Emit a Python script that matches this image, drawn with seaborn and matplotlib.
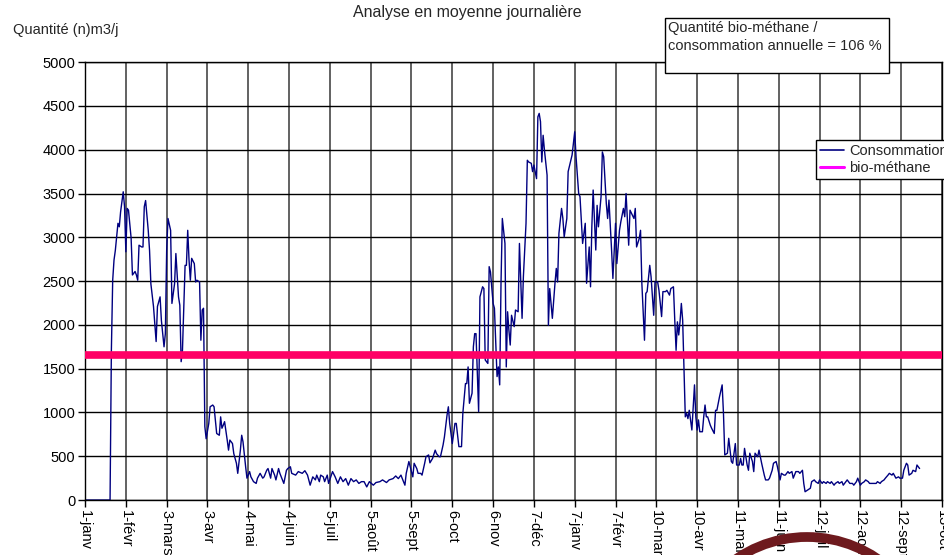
import numpy as np
import matplotlib
matplotlib.use('Agg')
import matplotlib.pyplot as plt
import seaborn as sns
from matplotlib.lines import Line2D
from matplotlib.patches import Rectangle, Circle
from matplotlib.transforms import IdentityTransform

# Daily consumption (n)m3/j, by segment (day 0 = 1-janv)
days_winter1 = [0, 19, 20, 21, 22, 23, 25, 26, 27, 29, 30, 31, 32, 33, 35, 36, 38, 39, 40, 41,
                43, 44, 45, 46, 48, 49, 50, 52, 54, 55, 57, 58, 60, 61, 62, 63, 65, 66, 68, 69,
                71, 72, 73, 74, 76, 77, 78, 79, 80, 81, 83, 84, 85, 87, 88, 89, 90, 91, 92, 94,
                95, 97, 98, 100, 102, 103, 104, 105, 106, 108, 109, 110, 112, 113, 115, 116, 118, 119, 120, 122,
                123, 125, 126, 128, 130, 131, 133, 135, 136, 138, 139, 141, 142, 144, 145, 147, 148, 150, 151, 153,
                154, 156, 157]
conso_winter1 = [0, 0, 1710, 2510, 2740, 2850, 3160, 3120, 3290, 3520, 3350, 2835, 3330, 3310, 2990, 2570, 2610, 2570, 2510, 2910,
                 2890, 2890, 3350, 3420, 3080, 2850, 2470, 2210, 1810, 2210, 2320, 2050, 1750, 1900, 2850, 3215, 3080, 2245, 2470, 2815,
                 2320, 2225, 1580, 1710, 2680, 2680, 3080, 2740, 2510, 2760, 2700, 2490, 2510, 2490, 1825, 2170, 2190, 840, 700, 875,
                 1065, 1085, 1065, 760, 740, 950, 820, 855, 895, 685, 570, 685, 645, 530, 420, 305, 570, 740, 665, 380,
                 250, 325, 265, 210, 190, 250, 305, 250, 265, 340, 360, 250, 360, 285, 230, 360, 305, 230, 190, 340,
                 360, 380, 305]

days_summer1 = [160, 162, 165, 167, 169, 171, 173, 175, 176, 178, 179, 181, 182, 184, 185, 188, 190, 192, 194, 196,
                198, 200, 202, 204, 206, 208, 210, 212, 214, 216, 219, 221, 224, 226, 229, 231, 234, 236, 238, 240,
                241, 243, 244, 246, 247, 249, 250, 252, 253, 255, 256, 258, 259, 261, 262, 264, 266, 267, 269]
conso_summer1 = [285, 325, 305, 335, 285, 170, 265, 230, 285, 210, 285, 265, 210, 285, 190, 325, 265, 190, 265, 210,
                 245, 170, 245, 210, 230, 190, 210, 210, 150, 210, 170, 200, 210, 230, 200, 230, 245, 275, 245, 285,
                 245, 170, 305, 440, 380, 265, 420, 360, 305, 305, 285, 420, 495, 515, 425, 475, 570, 530, 495]

days_winter2 = [270, 272, 273, 275, 276, 277, 279, 281, 282, 284, 286, 287, 289, 290, 291, 292, 294, 295, 296, 297,
                299, 300, 302, 303, 304, 306, 307, 308, 310, 311, 313, 314, 315, 316, 317, 319, 320, 321, 322, 323,
                324, 326, 327, 329, 330, 332, 333, 335, 336, 337, 339, 340, 341, 343, 344, 345, 346, 347, 348, 349,
                351, 352, 353, 355, 357, 358, 359, 360, 362, 363, 364, 366, 367, 369, 370, 372, 373, 375, 376, 378,
                380, 381, 383, 384, 385, 386, 388, 389, 390, 392, 393, 394, 396, 397, 398, 400, 401, 403, 404, 406,
                407, 409, 410, 411, 413, 414]
conso_winter2 = [495, 630, 720, 970, 1065, 875, 645, 875, 875, 610, 610, 990, 1330, 1330, 1520, 1105, 1220, 1750, 1900, 1900,
                 1010, 2320, 2435, 2415, 1600, 1560, 2665, 2605, 2245, 2190, 1410, 1520, 1315, 2475, 3215, 2930, 1520, 2150, 1940, 1770,
                 2110, 1980, 2170, 2150, 2930, 2075, 2550, 3160, 3880, 3860, 3845, 3750, 3825, 3670, 4375, 4415, 4320, 3860, 4165, 3995,
                 3710, 1995, 2415, 2075, 2475, 2645, 2490, 3045, 3330, 3215, 3005, 3215, 3750, 3880, 3940, 4205, 3920, 3500, 3465, 2930,
                 3160, 2475, 2890, 2435, 3120, 3540, 2855, 3365, 3120, 3465, 3975, 3920, 3385, 3215, 3425, 2855, 2530, 3160, 2700, 3080,
                 3175, 3330, 3235, 3500, 2910, 3310]

days_spring2 = [417, 418, 419, 421, 422, 423, 425, 426, 427, 429, 430, 432, 433, 435, 436, 438, 439, 441, 442, 444,
                445, 447, 448, 449, 450, 451, 452, 453, 454, 455, 456, 457, 458, 459, 461, 462, 463, 464, 465, 466,
                467, 469, 470, 471, 472, 473, 475, 476, 478, 479, 480, 482, 484, 485, 486, 488, 489, 491, 492, 494,
                495, 497, 498, 499, 500, 501, 503, 504, 505, 507, 508, 509, 511, 512, 514, 516, 517, 519, 520, 522,
                523, 525, 526, 528, 529, 531, 532, 534, 535, 537, 538, 540, 542, 543, 545, 546, 547, 549, 551, 552,
                554, 555, 557, 558, 560, 561, 563, 564, 566, 567, 569, 570, 572, 573, 575, 576, 578, 579, 581, 583,
                584, 586, 587, 589, 590, 592, 593, 595, 596, 598, 599, 601, 602, 604, 605, 607, 608, 610, 611, 613,
                614, 616, 618, 619, 621, 622, 624, 625, 626, 628, 629, 631, 632, 634]
conso_spring2 = [3215, 3330, 2890, 2985, 3080, 2475, 1825, 2360, 2380, 2680, 2550, 2110, 2490, 2490, 2395, 2095, 2380, 2380, 2395, 2340,
                 2415, 2435, 2055, 1710, 2035, 1885, 2035, 2245, 2055, 1485, 950, 990, 930, 1025, 800, 1065, 1315, 950, 800, 915,
                 780, 780, 950, 1085, 950, 950, 855, 820, 760, 1025, 1025, 1180, 1315, 990, 515, 535, 705, 440, 420, 645,
                 400, 400, 475, 400, 400, 590, 400, 340, 535, 440, 325, 535, 495, 570, 420, 285, 230, 230, 250, 340,
                 420, 440, 380, 230, 305, 285, 285, 325, 305, 325, 250, 325, 325, 305, 340, 190, 95, 115, 135, 210,
                 230, 210, 190, 230, 190, 210, 190, 210, 190, 210, 170, 190, 210, 190, 210, 170, 210, 230, 190, 190,
                 170, 210, 250, 170, 190, 210, 230, 210, 190, 190, 190, 190, 210, 190, 210, 230, 250, 285, 305, 285,
                 305, 250, 265, 250, 250, 340, 420, 400, 285, 305, 340, 325, 400, 360]

bio_methane = 1660

tick_labels = ['1-janv', '1-févr', '3-mars', '3-avr', '4-mai', '4-juin', '5-juil', '5-août', '5-sept', '6-oct',
               '6-nov', '7-déc', '7-janv', '7-févr', '10-mars', '10-avr', '11-mai', '11-juin', '12-juil', '12-août',
               '12-sept', '13-oct']

days = days_winter1 + days_summer1 + days_winter2 + days_spring2
conso = conso_winter1 + conso_summer1 + conso_winter2 + conso_spring2

sns.set_theme(style='white')
plt.rcParams['font.family'] = ['Liberation Sans', 'DejaVu Sans']

fig = plt.figure(figsize=(9.45, 5.55), dpi=100)
ax = fig.add_axes([0.090, 0.099, 0.9068, 0.789])

sns.lineplot(x=days, y=conso, color='#000080', linewidth=1.0, estimator=None, ax=ax, zorder=2)
ax.axhline(bio_methane, color='#ff0066', linewidth=5.5, zorder=3)

ax.set_xlim(0, 31 * (len(tick_labels) - 1))
ax.set_ylim(0, 5000)
ax.set_xticks(np.arange(len(tick_labels)) * 31)
ax.set_xticklabels(tick_labels, rotation=270)
ax.set_yticks(np.arange(0, 5001, 500))
ax.tick_params(axis='both', direction='out', length=5, width=1, color='black',
               labelsize=10.5, labelcolor='black', pad=2, bottom=True, left=True)

ax.grid(axis='x', color='#555555', linewidth=1.3)
ax.grid(axis='y', color='black', linewidth=1.0)
ax.set_axisbelow(True)
for s in ax.spines.values():
    s.set_color('black')
    s.set_linewidth(1)
ax.set_xlabel('')
ax.set_ylabel('')

fig.text(467 / 945, 1 - 13 / 555, 'Analyse en moyenne journalière', ha='center', va='center', fontsize=11.5)
fig.text(13 / 945, 1 - 30 / 555, 'Quantité (n)m3/j', ha='left', va='center', fontsize=10.5)

# Annotation box
fig.add_artist(Rectangle((665 / 945, 1 - 73 / 555), 224 / 945, 55 / 555, transform=fig.transFigure,
                         facecolor='white', edgecolor='black', linewidth=1, zorder=5))
fig.text(668 / 945, 1 - 21 / 555, 'Quantité bio-méthane /\nconsommation annuelle = 106 %',
         ha='left', va='top', fontsize=10.5, linespacing=1.4, zorder=6)

handles = [Line2D([], [], color='#000080', linewidth=1.2),
           Line2D([], [], color='#ff00ff', linewidth=2.2)]
leg = fig.legend(handles, ['Consommation', 'bio-méthane'], loc='upper left',
                 bbox_to_anchor=(816 / 945, 1 - 140 / 555), bbox_transform=fig.transFigure,
                 frameon=True, fancybox=False, edgecolor='black', framealpha=1,
                 borderpad=0.25, handlelength=1.7, handletextpad=0.3, labelspacing=0.25,
                 borderaxespad=0, fontsize=10.5)
leg.get_frame().set_linewidth(1)

# dark red ring overlapping the bottom right
fig.add_artist(Circle((807, 555 - 662), 125, transform=IdentityTransform(), fill=False,
                      edgecolor='#6e1a1e', linewidth=7, zorder=10))

fig.savefig('out.png', dpi=100)
